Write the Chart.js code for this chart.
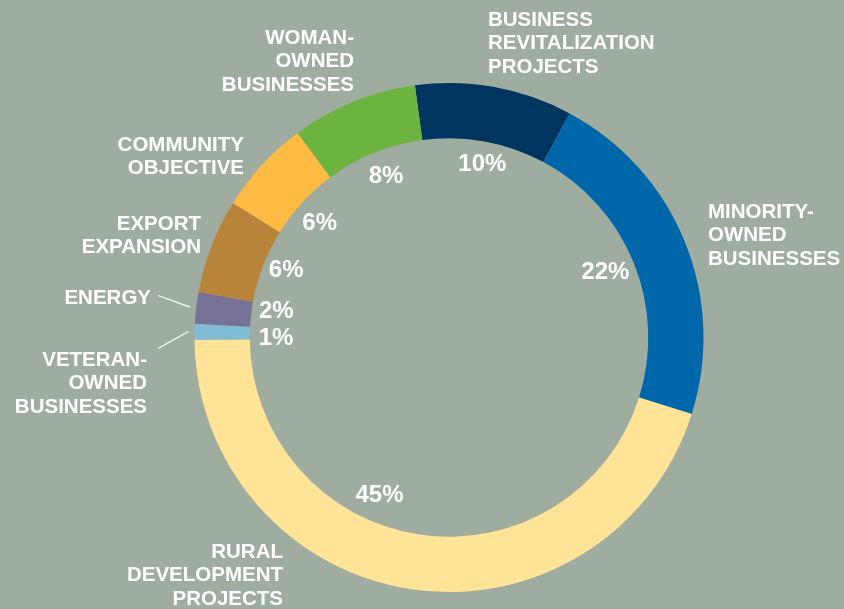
<!DOCTYPE html>
<html>
<head>
<meta charset="utf-8">
<script src="https://cdn.jsdelivr.net/npm/chart.js@4/dist/chart.umd.min.js"></script>
<style>
  html, body { margin: 0; padding: 0; background: #9eada0; }
  #wrap { width: 844px; height: 609px; position: relative; }
</style>
</head>
<body>
<div id="wrap"><canvas id="c" width="844" height="609"></canvas></div>
<script>
// ---- data ----
const categories = [
  'BUSINESS REVITALIZATION PROJECTS',
  'MINORITY-OWNED BUSINESSES',
  'RURAL DEVELOPMENT PROJECTS',
  'VETERAN-OWNED BUSINESSES',
  'ENERGY',
  'EXPORT EXPANSION',
  'COMMUNITY OBJECTIVE',
  'WOMAN-OWNED BUSINESSES'
];
const labelLines = [
  ['BUSINESS', 'REVITALIZATION', 'PROJECTS'],
  ['MINORITY-', 'OWNED', 'BUSINESSES'],
  ['RURAL', 'DEVELOPMENT', 'PROJECTS'],
  ['VETERAN-', 'OWNED', 'BUSINESSES'],
  ['ENERGY'],
  ['EXPORT', 'EXPANSION'],
  ['COMMUNITY', 'OBJECTIVE'],
  ['WOMAN-', 'OWNED', 'BUSINESSES']
];
const values = [10, 22, 45, 1, 2, 6, 6, 8];
const colors = ['#003560', '#0067ab', '#ffe397', '#80bcd4', '#767196', '#b8843a', '#fdbb43', '#6db33f'];

// ---- label layout (offsets from doughnut centre) ----
const outerLayout = [
  { dx: 39,   dy: -312, align: 'left'  },
  { dx: 259,  dy: -120, align: 'left'  },
  { dx: -166, dy: 220,  align: 'right' },
  { dx: -302, dy: 28,   align: 'right', leader: { dx: -291, dy: 11 } },
  { dx: -298, dy: -34,  align: 'right', leader: { dx: -291, dy: -42 } },
  { dx: -248, dy: -108, align: 'right' },
  { dx: -205, dy: -187, align: 'right' },
  { dx: -95,  dy: -294, align: 'right' }
];
const pctAngleAdjust = [0.5, -1, 15.5, -1, 2.5, 2, -0.7, 1];
const pctRadius = [178, 170, 171, 173, 175, 177, 174, 175];

const FONT = '"Liberation Sans", Arial, sans-serif';

const labelPlugin = {
  id: 'ringLabels',
  afterDatasetsDraw(chart) {
    const ctx = chart.ctx;
    const meta = chart.getDatasetMeta(0);
    ctx.save();
    ctx.fillStyle = '#ffffff';
    ctx.strokeStyle = '#ffffff';
    meta.data.forEach((arc, i) => {
      const p = arc.getProps(['x', 'y', 'startAngle', 'endAngle', 'outerRadius'], true);
      const cx = p.x, cy = p.y;
      const mid = (p.startAngle + p.endAngle) / 2 + pctAngleAdjust[i] * Math.PI / 180;
      // percentage label
      const r = pctRadius[i];
      const px = cx + Math.cos(mid) * r;
      const py = cy + Math.sin(mid) * r;
      ctx.font = 'bold 24px ' + FONT;
      ctx.textAlign = 'center';
      ctx.textBaseline = 'alphabetic';
      ctx.fillText(values[i] + '%', px, py + 8.6);
      // outer label
      const L = outerLayout[i];
      ctx.font = 'bold 20.5px ' + FONT;
      ctx.textAlign = L.align;
      labelLines[i].forEach((line, k) => {
        ctx.fillText(line, cx + L.dx, cy + L.dy + k * 23.8);
      });
      if (L.leader) {
        const am = (p.startAngle + p.endAngle) / 2;
        const re = p.outerRadius + 6;
        ctx.lineWidth = 1.2;
        ctx.beginPath();
        ctx.moveTo(cx + L.leader.dx, cy + L.leader.dy);
        ctx.lineTo(cx + Math.cos(am) * re, cy + Math.sin(am) * re);
        ctx.stroke();
      }
    });
    ctx.restore();
  }
};

new Chart(document.getElementById('c'), {
  type: 'doughnut',
  data: {
    labels: categories,
    datasets: [{
      data: values,
      backgroundColor: colors,
      borderWidth: 0
    }]
  },
  options: {
    responsive: false,
    animation: false,
    rotation: -7.7,
    cutout: '78.3%',
    layout: { padding: { left: 54, right: 0, top: 83, bottom: 17 } },
    plugins: {
      legend: { display: false },
      tooltip: { enabled: false }
    }
  },
  plugins: [labelPlugin]
});
</script>
</body>
</html>
